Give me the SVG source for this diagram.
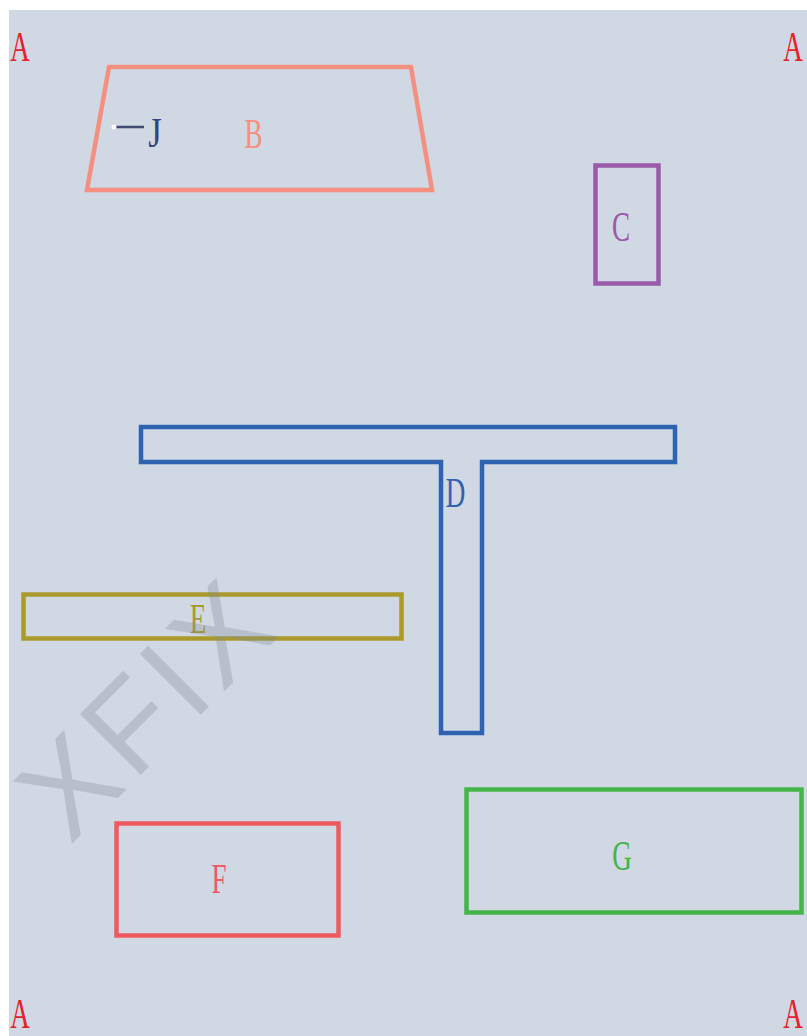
<svg xmlns="http://www.w3.org/2000/svg" width="807" height="1036" viewBox="0 0 807 1036">
<style>
.lbl{font-family:"Liberation Serif","Times New Roman",serif;font-size:43px;text-anchor:middle}
.shape{fill:none;stroke-width:4.5}
</style>
<rect x="0" y="0" width="807" height="1036" fill="#ffffff"/>
<rect x="9" y="10" width="798" height="1026" fill="#d0d8e3"/>
<g id="corners" fill="#e8202a">
<text class="lbl" transform="translate(20,61) scale(0.63,1)">A</text>
<text class="lbl" transform="translate(793,61) scale(0.63,1)">A</text>
<text class="lbl" transform="translate(20,1028) scale(0.63,1)">A</text>
<text class="lbl" transform="translate(793,1028) scale(0.63,1)">A</text>
</g>
<g id="B">
<polygon class="shape" points="109,67 411,67 432,190 87,190" stroke="#f4907f"/>
<text class="lbl" fill="#f4907f" transform="translate(253.5,148) scale(0.63,1)">B</text>
</g>
<g id="J">
<line x1="114" y1="127" x2="144" y2="127" stroke="#3e4a72" stroke-width="2.5"/>
<circle cx="114" cy="127" r="2.5" fill="#ffffff"/>
<text class="lbl" fill="#34437a" transform="translate(155,147) scale(0.8,1)">J</text>
</g>
<g id="C">
<rect class="shape" x="595.5" y="165.5" width="63" height="118" stroke="#9b59a8"/>
<text class="lbl" fill="#9b59a8" transform="translate(621,241) scale(0.63,1)">C</text>
</g>
<g id="D">
<path class="shape" d="M141,427 H675 V462 H482 V733 H441 V462 H141 Z" stroke="#2f62b0"/>
<text class="lbl" fill="#2f62b0" transform="translate(455.5,507) scale(0.63,1)">D</text>
</g>
<g id="E">
<rect class="shape" x="23.5" y="594.5" width="378" height="44" stroke="#aa9a2e"/>
<text class="lbl" fill="#aa9a2e" transform="translate(198,633) scale(0.63,1)">E</text>
</g>
<g id="F">
<rect class="shape" x="116.5" y="823.5" width="222" height="112" stroke="#ef5a5f"/>
<text class="lbl" fill="#ef5a5f" transform="translate(219,893) scale(0.63,1)">F</text>
</g>
<g id="G">
<rect class="shape" x="466.5" y="789.5" width="335" height="123" stroke="#44b549"/>
<text class="lbl" fill="#44b549" transform="translate(622,870) scale(0.63,1)">G</text>
</g>
<g id="connectors"></g>
<g id="watermark">
<text font-family="Liberation Sans, Arial, sans-serif" font-size="125" letter-spacing="7" text-anchor="middle" fill="#7f8791" fill-opacity="0.3" transform="translate(146,706) rotate(-45)" y="45">XFIX</text>
</g>
</svg>
